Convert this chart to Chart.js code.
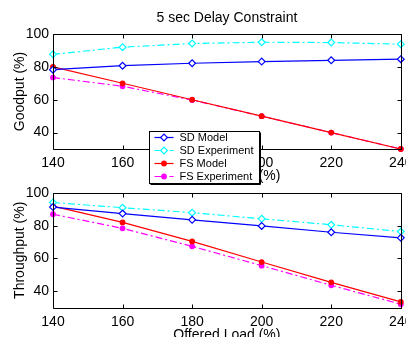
<!DOCTYPE html>
<html>
<head>
<meta charset="utf-8">
<script src="https://cdn.jsdelivr.net/npm/chart.js@4.4.1/dist/chart.umd.min.js"></script>
<style>
html,body{margin:0;padding:0;background:#fff;overflow:hidden;width:406px;height:337px;}
canvas{position:absolute;left:0;top:0;}
#c1{z-index:2;}
#c2{z-index:1;}
</style>
</head>
<body>
<canvas id="c2" width="406" height="350"></canvas>
<canvas id="c1" width="406" height="350"></canvas>
<script>
// ---- data ----
const offeredLoad = [140, 160, 180, 200, 220, 240];
const seriesNames = ['SD Model', 'SD Experiment', 'FS Model', 'FS Experiment'];
const goodputSDModel = [78.3, 80.7, 82.2, 83.2, 84.0, 84.7];
const goodputSDExp   = [87.6, 92.0, 94.2, 95.0, 94.8, 93.8];
const goodputFSModel = [80.0, 70.0, 60.0, 50.0, 40.0, 30.0];
const goodputFSExp   = [73.5, 68.2, 59.8, 50.0, 40.0, 30.0];
const throughSDModel = [91.4, 87.4, 83.6, 79.9, 76.0, 72.6];
const throughSDExp   = [94.2, 91.0, 88.0, 84.2, 80.6, 76.4];
const throughFSModel = [92.0, 82.0, 70.4, 57.8, 45.4, 33.4];
const throughFSExp   = [87.0, 78.4, 67.4, 55.6, 43.6, 32.0];
const yTickValues = [40, 60, 80, 100];
const xTickValues = [140, 160, 180, 200, 220, 240];

Chart.defaults.font.family = '"Liberation Sans", Arial, Helvetica, sans-serif';
Chart.defaults.color = '#000';

const styles = [
  {color:'#0000ff', dash:[], point:'rectRot', radius:3.4, fill:'#ffffff'},
  {color:'#00ffff', dash:[7,3,2,3], point:'rectRot', radius:3.4, fill:'#ffffff'},
  {color:'#ff0000', dash:[], point:'circle', radius:2.3, fill:'#ff0000'},
  {color:'#ff00ff', dash:[7,3,2,3], point:'circle', radius:2.3, fill:'#ff00ff'}
];

function makeDatasets(arrs){
  return arrs.map((arr,i)=>({
    label: seriesNames[i],
    data: offeredLoad.map((x,j)=>({x:x, y:arr[j]})),
    borderColor: styles[i].color,
    borderWidth: 1.2,
    borderDash: styles[i].dash,
    pointStyle: styles[i].point,
    pointRadius: styles[i].radius,
    pointBorderColor: styles[i].color,
    pointBackgroundColor: styles[i].fill,
    pointBorderWidth: 1.2,
    tension: 0,
    clip: false
  }));
}

const framePlugin = {
  id: 'frame',
  afterDatasetsDraw(chart){
    const {ctx, chartArea: a, scales} = chart;
    ctx.save();
    ctx.strokeStyle = '#000';
    ctx.lineWidth = 1;
    ctx.setLineDash([]);
    const L = Math.round(a.left)+0.5, R = Math.round(a.right)+0.5;
    const T = Math.round(a.top)+0.5, B = Math.round(a.bottom)+0.5;
    ctx.beginPath();
    ctx.rect(L, T, R-L, B-T);
    const tl = 4;
    xTickValues.forEach(v=>{
      const px = Math.round(scales.x.getPixelForValue(v))+0.5;
      ctx.moveTo(px, B); ctx.lineTo(px, B-tl);
      ctx.moveTo(px, T); ctx.lineTo(px, T+tl);
    });
    yTickValues.forEach(v=>{
      const py = Math.round(scales.y.getPixelForValue(v))+0.5;
      ctx.moveTo(L, py); ctx.lineTo(L+tl, py);
      ctx.moveTo(R, py); ctx.lineTo(R-tl, py);
    });
    ctx.stroke();
    ctx.restore();
  }
};

const legendPlugin = {
  id: 'boxLegend',
  afterDraw(chart){
    const ctx = chart.ctx;
    const bx = 149.5, by = 131.5, bw = 110, bh = 52;
    ctx.save();
    ctx.fillStyle = '#fff';
    ctx.fillRect(bx, by, bw, bh);
    ctx.strokeStyle = '#000';
    ctx.lineWidth = 1;
    ctx.setLineDash([]);
    ctx.strokeRect(bx, by, bw, bh);
    ctx.beginPath();
    ctx.moveTo(bx+1, by+bh+1); ctx.lineTo(bx+bw+1, by+bh+1); ctx.lineTo(bx+bw+1, by+1);
    ctx.stroke();
    ctx.font = '11px "Liberation Sans", Arial, sans-serif';
    ctx.textBaseline = 'middle';
    ctx.textAlign = 'left';
    chart.data.datasets.forEach((ds,i)=>{
      const y = by + 6 + i*13;
      ctx.strokeStyle = ds.borderColor;
      ctx.lineWidth = 1.2;
      ctx.setLineDash(ds.borderDash);
      ctx.beginPath();
      ctx.moveTo(bx+5, y); ctx.lineTo(bx+24, y);
      ctx.stroke();
      ctx.setLineDash([]);
      ctx.fillStyle = ds.pointBackgroundColor;
      ctx.strokeStyle = ds.pointBorderColor;
      ctx.beginPath();
      if (ds.pointStyle === 'rectRot') {
        const r = ds.pointRadius;
        ctx.moveTo(bx+14.5, y-r); ctx.lineTo(bx+14.5+r, y); ctx.lineTo(bx+14.5, y+r); ctx.lineTo(bx+14.5-r, y); ctx.closePath();
      } else {
        ctx.arc(bx+14.5, y, ds.pointRadius, 0, Math.PI*2);
      }
      ctx.fill(); ctx.stroke();
      ctx.fillStyle = '#000';
      ctx.fillText(ds.label, bx+30, y+0.5);
    });
    ctx.restore();
  }
};

function scalesFor(yTitle, xAxisHeight){
  return {
    x: {
      type: 'linear', min: 140, max: 240,
      afterBuildTicks(s){ s.ticks = xTickValues.map(v=>({value:v})); },
      afterFit(s){ s.height = xAxisHeight; s.paddingLeft = 0; s.paddingRight = 0; },
      grid: {display:false, drawTicks:false},
      border: {display:false},
      ticks: {font:{size:14}, padding:6, maxRotation:0, autoSkip:false},
      title: {display:true, text:'Offered Load (%)', font:{size:14}, padding:{top:0,bottom:2}}
    },
    y: {
      type: 'linear', min: 30, max: 100,
      afterBuildTicks(s){ s.ticks = yTickValues.map(v=>({value:v})); },
      afterFit(s){ s.width = 53; s.paddingTop = 0; s.paddingBottom = 0; },
      grid: {display:false, drawTicks:false},
      border: {display:false},
      ticks: {font:{size:14}, padding:4},
      title: {display:true, text:yTitle, font:{size:14}, padding:{top:12,bottom:0}}
    }
  };
}

new Chart(document.getElementById('c1'), {
  type: 'line',
  data: { datasets: makeDatasets([goodputSDModel, goodputSDExp, goodputFSModel, goodputFSExp]) },
  options: {
    responsive: false, animation: false,
    layout: {padding: {left:0, right:5, top:10, bottom:350-149-38}},
    plugins: {
      legend: {display:false}, tooltip: {enabled:false},
      title: {display:true, fullSize:false, text:'5 sec Delay Constraint', font:{size:14, weight:'normal'}, color:'#000', padding:{top:0,bottom:7.2}}
    },
    scales: scalesFor('Goodput (%)', 38)
  },
  plugins: [framePlugin, legendPlugin]
});

new Chart(document.getElementById('c2'), {
  type: 'line',
  data: { datasets: makeDatasets([throughSDModel, throughSDExp, throughFSModel, throughFSExp]) },
  options: {
    responsive: false, animation: false,
    layout: {padding: {left:0, right:5, top:193, bottom:350-307.5-38}},
    plugins: { legend: {display:false}, tooltip: {enabled:false}, title:{display:false} },
    scales: scalesFor('Throughput (%)', 38)
  },
  plugins: [framePlugin]
});
</script>
</body>
</html>
